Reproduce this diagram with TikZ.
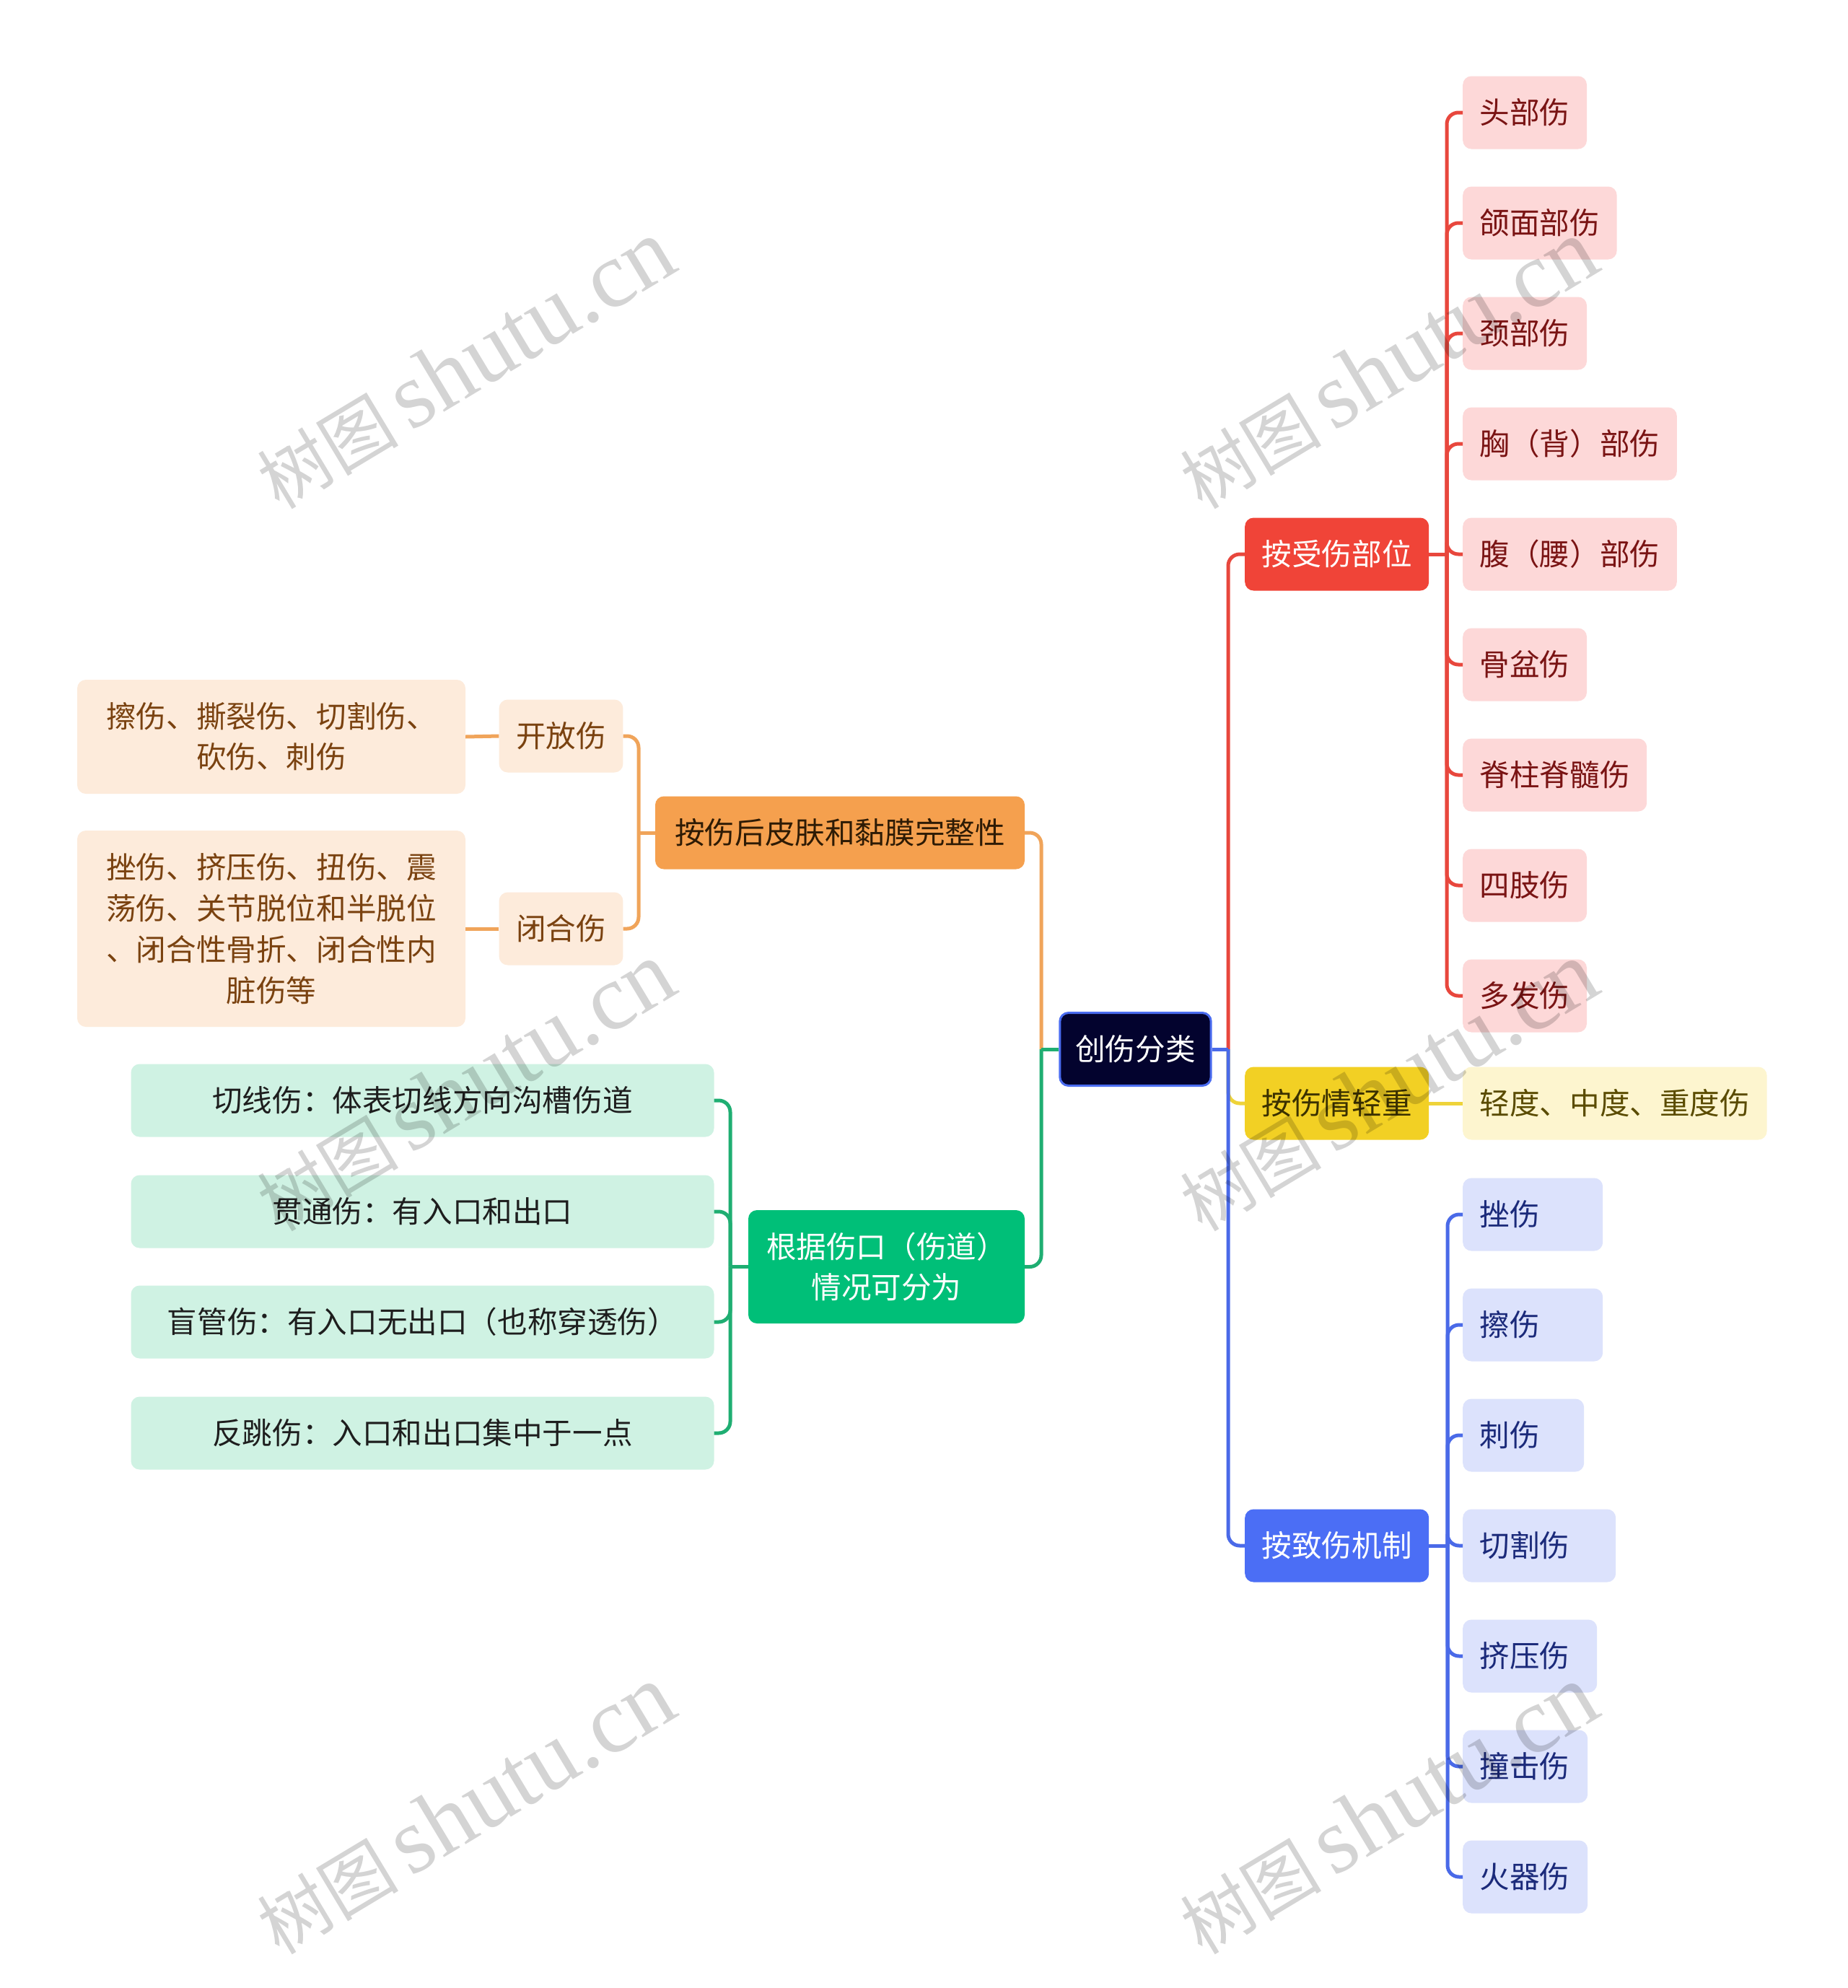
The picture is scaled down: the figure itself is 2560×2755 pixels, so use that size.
\documentclass[tikz,border=0pt]{standalone}
\usepackage{fontspec}
\setmainfont{Noto Sans CJK SC}
\newfontfamily\wmlat{Liberation Serif}
\definecolor{rootfill}{HTML}{03032E}
\definecolor{rootborder}{HTML}{4A6CF0}
\definecolor{redmain}{HTML}{F04438}
\definecolor{redchild}{HTML}{FDD8D8}
\definecolor{redtext}{HTML}{7A1414}
\definecolor{redline}{HTML}{E8473D}
\definecolor{yelmain}{HTML}{F2D024}
\definecolor{yeltext}{HTML}{3B3100}
\definecolor{yelchild}{HTML}{FDF5CF}
\definecolor{yelctext}{HTML}{5A4B00}
\definecolor{yelline}{HTML}{EED33A}
\definecolor{bluemain}{HTML}{4B6EF5}
\definecolor{bluechild}{HTML}{DCE2FC}
\definecolor{bluetext}{HTML}{1B2A7A}
\definecolor{blueline}{HTML}{4A6AE8}
\definecolor{grnmain}{HTML}{00BF78}
\definecolor{grnchild}{HTML}{CFF2E3}
\definecolor{grntext}{HTML}{1E1E1E}
\definecolor{grnline}{HTML}{1FAE72}
\definecolor{ormain}{HTML}{F5A04E}
\definecolor{ortext}{HTML}{2E1B05}
\definecolor{orchild}{HTML}{FDEBDB}
\definecolor{orctext}{HTML}{7A4210}
\definecolor{orline}{HTML}{F0A45A}
\tikzset{
  bx/.style={rounded corners=12pt, inner xsep=23.5pt, inner ysep=0pt,
    font=\fontsize{41.6pt}{56pt}\selectfont},
  one/.style={bx, minimum height=101pt, text height=36.6pt, text depth=5pt},
  ln/.style={line width=5pt, rounded corners=16pt},
  stub/.style={line width=5pt},
  rchild/.style={one, fill=redchild, text=redtext, anchor=west},
  bchild/.style={one, fill=bluechild, text=bluetext, anchor=west, align=left},
  gchild/.style={one, fill=grnchild, text=grntext, minimum width=808pt},
  ochild/.style={bx, fill=orchild, text=orctext},
  wm/.style={rotate=31, text=black, opacity=0.17, font=\fontsize{98pt}{98pt}\selectfont}
}
\newcommand{\wmtext}{树图\,{\wmlat\fontsize{130pt}{130pt}\selectfont shutu.cn}}
\begin{document}
\begin{tikzpicture}[x=1pt,y=-1pt]
\fill[white] (0,0) rectangle (2560,2755);
\useasboundingbox (0,0) rectangle (2560,2755);

% root
\node[one, fill=rootfill, draw=rootborder, line width=3pt, text=white, inner xsep=21.5pt] (root) at (1573.5,1454) {创伤分类};

% level 1 right
\node[one, fill=redmain, text=white, anchor=west] (red) at (1725,768) {按受伤部位};
\node[one, fill=yelmain, text=yeltext, anchor=west] (yel) at (1725,1529) {按伤情轻重};
\node[one, fill=bluemain, text=white, anchor=west] (blue) at (1725,2142) {按致伤机制};

% level 1 left
\node[one, fill=ormain, text=ortext, minimum width=512pt] (ora) at (1164,1154) {按伤后皮肤和黏膜完整性};
\node[bx, fill=grnmain, text=white, minimum width=383pt, minimum height=157pt, align=center] (grn) at (1228.5,1755.5) {根据伤口（伤道）\\情况可分为};

% red children
\node[rchild] (r1) at (2027,156) {头部伤};
\node[rchild] (r2) at (2027,309) {颌面部伤};
\node[rchild] (r3) at (2027,462) {颈部伤};
\node[rchild] (r4) at (2027,615) {胸（背）部伤};
\node[rchild] (r5) at (2027,768) {腹（腰）部伤};
\node[rchild] (r6) at (2027,921) {骨盆伤};
\node[rchild] (r7) at (2027,1074) {脊柱脊髓伤};
\node[rchild] (r8) at (2027,1227) {四肢伤};
\node[rchild] (r9) at (2027,1380) {多发伤};

% yellow child
\node[one, fill=yelchild, text=yelctext, anchor=west] (y1) at (2027,1529) {轻度、中度、重度伤};

% blue children
\node[bchild, text width=147pt] (b1) at (2027,1683) {挫伤};
\node[bchild, text width=147pt] (b2) at (2027,1836) {擦伤};
\node[bchild, text width=121pt] (b3) at (2027,1989) {刺伤};
\node[bchild, text width=165pt] (b4) at (2027,2142) {切割伤};
\node[bchild, text width=139pt] (b5) at (2027,2295) {挤压伤};
\node[bchild, text width=126pt] (b6) at (2027,2448) {撞击伤};
\node[bchild, text width=126pt] (b7) at (2027,2601) {火器伤};

% green children
\node[gchild] (g1) at (585.5,1525) {切线伤：体表切线方向沟槽伤道};
\node[gchild] (g2) at (585.5,1679) {贯通伤：有入口和出口};
\node[gchild] (g3) at (585.5,1832) {盲管伤：有入口无出口（也称穿透伤）};
\node[gchild] (g4) at (585.5,1986) {反跳伤：入口和出口集中于一点};

% orange children
\node[one, fill=orchild, text=orctext, minimum width=170pt] (o1) at (777.5,1020) {开放伤};
\node[one, fill=orchild, text=orctext, minimum width=170pt] (o2) at (777.5,1287) {闭合伤};
\node[ochild, minimum width=538pt, minimum height=158pt, align=center] (oo1) at (376,1021) {擦伤、撕裂伤、切割伤、\\砍伤、刺伤};
\node[ochild, minimum width=538pt, minimum height=272pt, align=center, font=\fontsize{41.6pt}{57pt}\selectfont] (oo2) at (376,1287) {挫伤、挤压伤、扭伤、震\\荡伤、关节脱位和半脱位\\、闭合性骨折、闭合性内\\脏伤等};

% junction coordinates
\coordinate (rj) at (1702,1454);
\coordinate (lj) at (1443,1454);
\coordinate (rt) at (2005,768);
\coordinate (bt) at (2006,2142);
\coordinate (ot) at (885,1154);
\coordinate (gt) at (1012,1755.5);

% right connectors
\draw[ln, redline] (rj) |- (red.west);
\draw[ln, yelline] (rj) |- (yel.west);
\draw[ln, blueline] (rj) |- (blue.west);
\draw[stub, blueline] (root.east) -- (rj);

% left connectors
\draw[ln, orline] (lj) |- (ora.east);
\draw[ln, grnline] (lj) |- (grn.east);
\draw[stub, grnline] (root.west) -- (lj);

% red branch
\draw[stub, redline] (red.east) -- (rt);
\foreach \n in {r1,r2,r3,r4,r5,r6,r7,r8,r9} \draw[ln, redline] (rt) |- (\n.west);

% yellow branch
\draw[stub, yelline] (yel.east) -- (y1.west);

% blue branch
\draw[stub, blueline] (blue.east) -- (bt);
\foreach \n in {b1,b2,b3,b4,b5,b6,b7} \draw[ln, blueline] (bt) |- (\n.west);

% orange branch
\draw[stub, orline] (ora.west) -- (ot);
\foreach \n in {o1,o2} \draw[ln, orline] (ot) |- (\n.east);
\draw[stub, orline] (o1.west) -- (oo1.east);
\draw[stub, orline] (o2.west) -- (oo2.east);

% green branch
\draw[stub, grnline] (grn.west) -- (gt);
\foreach \n in {g1,g2,g3,g4} \draw[ln, grnline] (gt) |- (\n.east);

% watermarks
\node[wm] (wm1) at (645,505) {\wmtext};
\node[wm] (wm2) at (1924,505) {\wmtext};
\node[wm] (wm3) at (645,1506) {\wmtext};
\node[wm] (wm4) at (1924,1506) {\wmtext};
\node[wm] (wm5) at (645,2508) {\wmtext};
\node[wm] (wm6) at (1924,2508) {\wmtext};
\end{tikzpicture}
\end{document}
